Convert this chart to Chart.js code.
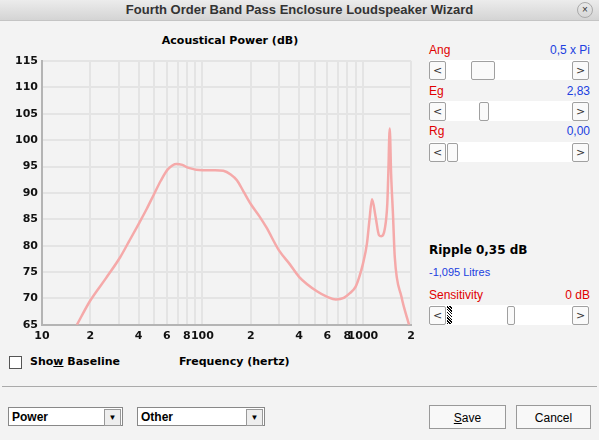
<!DOCTYPE html>
<html><head><meta charset="utf-8">
<script src="https://cdn.jsdelivr.net/npm/chart.js@4/dist/chart.umd.min.js"></script>
<style>
body{margin:0;width:599px;height:440px;background:#f3f3f3;font-family:"DejaVu Sans",sans-serif;position:relative;overflow:hidden}
.abs{position:absolute}
#bar{left:0;top:0;width:599px;height:20px;background:linear-gradient(#ececec,#d4d4d4);border-bottom:1px solid #c4c4c4;text-align:center;font:bold 13px "Liberation Sans",Arial;line-height:20px;color:#333}
.red{color:#e00000;font:12px "Liberation Sans",Arial}
.blue{color:#2040e0;font:12px "Liberation Sans",Arial}
.sb{left:429px;width:160px;height:20px;background:#fff}
.btn{position:absolute;top:1px;width:15px;height:17px;border:1px solid #a0a0a0;border-radius:2px;background:#fafafa;font:11px "DejaVu Sans";text-align:center;line-height:17px;color:#333}
.thumb{position:absolute;top:1px;height:17px;border:1px solid #a0a0a0;border-radius:2px;background:#fafafa}
.combo{height:19px;background:#fff;border:1px solid #888;font:bold 12px "Liberation Sans Narrow","Liberation Sans";line-height:19px;padding-left:3px;box-sizing:border-box}
.pb{height:24px;border:1px solid #999;background:#f8f8f8;font:12px "Liberation Sans Narrow","Liberation Sans";text-align:center;line-height:24px;box-sizing:border-box}
</style></head><body>
<div id="bar" class="abs">Fourth Order Band Pass Enclosure Loudspeaker Wizard<span style="position:absolute;right:6px;top:2px;width:14px;height:14px;border:1px solid #aaa;border-radius:8px;font:10px sans-serif;line-height:14px">×</span></div>
<div class="abs" style="left:100px;top:34px;width:260px;text-align:center;font:bold 11px 'DejaVu Sans'">Acoustical Power (dB)</div>
<div class="abs" style="left:0;top:48px;width:420px;height:300px"><canvas id="c"></canvas></div>
<div class="abs" style="left:9px;top:356px;width:11px;height:11px;border:1px solid #555;background:#fff"></div>
<div class="abs" style="left:30px;top:355px;font:bold 11px 'DejaVu Sans'">Sho<u>w</u> Baseline</div>
<div class="abs" style="left:179px;top:355px;font:bold 11px 'DejaVu Sans'">Frequency (hertz)</div>

<div class="abs red" style="left:429px;top:43px">Ang</div><div class="abs blue" style="right:9px;top:43px">0,5 x Pi</div>
<div class="abs sb" style="top:60px"><div class="btn" style="left:0">&lt;</div><div class="thumb" style="left:42px;width:22px"></div><div class="btn" style="right:0">&gt;</div></div>
<div class="abs red" style="left:429px;top:84px">Eg</div><div class="abs blue" style="right:9px;top:84px">2,83</div>
<div class="abs sb" style="top:101px"><div class="btn" style="left:0">&lt;</div><div class="thumb" style="left:50px;width:8px"></div><div class="btn" style="right:0">&gt;</div></div>
<div class="abs red" style="left:429px;top:124px">Rg</div><div class="abs blue" style="right:9px;top:124px">0,00</div>
<div class="abs sb" style="top:142px"><div class="btn" style="left:0">&lt;</div><div class="thumb" style="left:18px;width:9px"></div><div class="btn" style="right:0">&gt;</div></div>
<div class="abs" style="left:429px;top:243px;font:bold 12px 'DejaVu Sans'">Ripple 0,35 dB</div>
<div class="abs blue" style="left:429px;top:266px;font-size:11px">-1,095 Litres</div>
<div class="abs red" style="left:429px;top:288px">Sensitivity</div><div class="abs red" style="right:9px;top:288px">0 dB</div>
<div class="abs sb" style="top:305px"><div class="btn" style="left:0">&lt;</div><div class="thumb" style="left:78px;width:6px"></div><div class="abs" style="left:18px;top:1px;width:5px;height:18px;background:repeating-linear-gradient(45deg,#000 0 1px,#fff 1px 2px)"></div><div class="btn" style="right:0">&gt;</div></div>

<div class="abs" style="left:2px;top:386px;width:595px;border-top:1px solid #aaa"></div>
<div class="abs combo" style="left:8px;top:407px;width:115px">Power<span style="position:absolute;right:1px;top:1px;width:15px;height:15px;border:1px solid #999;background:#eee;font-size:8px;text-align:center;line-height:15px">▼</span></div>
<div class="abs combo" style="left:137px;top:407px;width:128px">Other<span style="position:absolute;right:1px;top:1px;width:15px;height:15px;border:1px solid #999;background:#eee;font-size:8px;text-align:center;line-height:15px">▼</span></div>
<div class="abs pb" style="left:429px;top:405px;width:77px"><u>S</u>ave</div>
<div class="abs pb" style="left:516px;top:405px;width:75px">Cancel</div>
<script>
const freqs = [16.5, 20, 25, 30.7, 35, 40, 45, 50, 55, 61, 69, 75, 81, 100, 120, 135, 150, 164, 180, 200, 225, 250, 300, 350, 400, 520, 600, 680, 760, 830, 900, 950, 1000, 1060, 1100, 1140, 1200, 1260, 1300, 1370, 1420, 1440, 1470, 1500, 1540, 1580, 1740, 1940];
const powerDb = [65, 69.6, 73.8, 77.8, 80.9, 84.1, 87, 89.8, 92.3, 94.5, 95.5, 95.3, 94.8, 94.3, 94.3, 94.2, 93.5, 92.4, 90.3, 87.9, 85.7, 83.5, 79.1, 76.5, 74.1, 71.3, 70.3, 69.8, 70.1, 71, 72.2, 74.1, 76.5, 80.4, 85, 88.8, 85.5, 82, 81.8, 83.2, 88, 93.5, 102.2, 93.5, 86, 77.9, 70.3, 65];
const xTicks = [10, 20, 30, 40, 50, 60, 70, 80, 90, 100, 200, 300, 400, 500, 600, 700, 800, 900, 1000, 2000];
const xTickLabels = ["10", "2", "", "4", "", "6", "", "8", "", "100", "2", "", "4", "", "6", "", "8", "", "1000", "2"];
const yTicks = [65, 70, 75, 80, 85, 90, 95, 100, 105, 110, 115];

const tickFont = {family: "DejaVu Sans", weight: "bold", size: 11};
new Chart(document.getElementById("c"), {
  type: "line",
  data: {
    datasets: [{
      data: freqs.map((f, i) => ({x: f, y: powerDb[i]})),
      borderColor: "#f5a9a9",
      borderWidth: 2.5,
      pointRadius: 0,
      cubicInterpolationMode: "monotone"
    }]
  },
  options: {
    responsive: true,
    maintainAspectRatio: false,
    animation: false,
    layout: {padding: {top: 13, right: 8}},
    plugins: {legend: {display: false}, tooltip: {enabled: false}},
    scales: {
      x: {
        type: "logarithmic", min: 10, max: 2000,
        afterBuildTicks: ax => { ax.ticks = xTicks.map(v => ({value: v})); },
        ticks: {
          autoSkip: false, maxRotation: 0, color: "#111", font: tickFont, padding: 5,
          callback: (v, i) => xTickLabels[i]
        },
        grid: {color: "#e4e4e4", lineWidth: 2, drawTicks: false},
        border: {color: "#b4b4b4", width: 2}
      },
      y: {
        min: 65, max: 115,
        afterBuildTicks: ax => { ax.ticks = yTicks.map(v => ({value: v})); },
        afterFit: ax => { ax.width = 42; },
        ticks: {color: "#111", font: tickFont, padding: 4},
        grid: {color: "#e4e4e4", lineWidth: 2, drawTicks: false},
        border: {color: "#b4b4b4", width: 2}
      }
    }
  }
});
</script>
</body></html>
